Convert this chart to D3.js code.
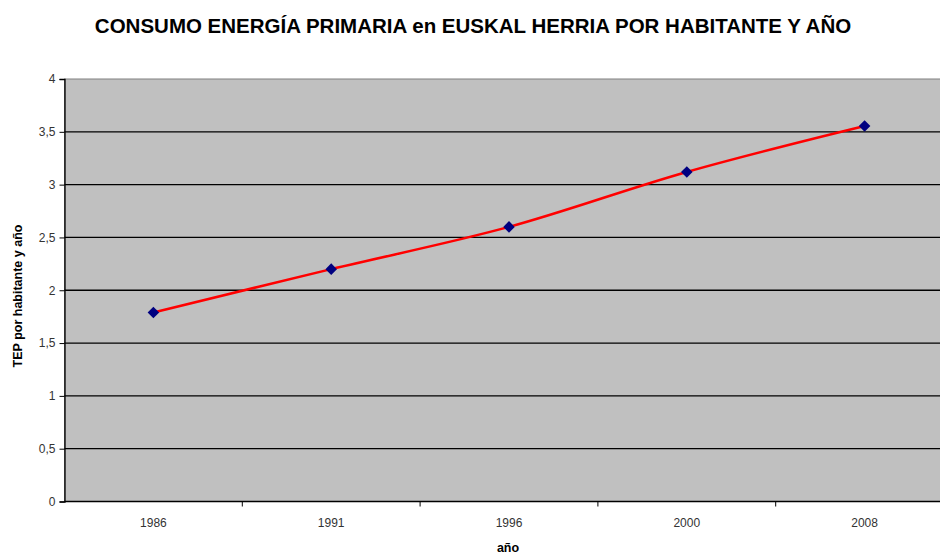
<!DOCTYPE html>
<html>
<head>
<meta charset="utf-8">
<script src="https://cdn.jsdelivr.net/npm/d3@7"></script>
<style>
body { margin: 0; background: #fff; }
text { font-family: "Liberation Sans", Arial, sans-serif; }
</style>
</head>
<body>
<svg id="chart" width="940" height="554"></svg>
<script>
// data
var years = ["1986", "1991", "1996", "2000", "2008"];
var tep = [1.79, 2.2, 2.6, 3.12, 3.555];
var yTicks = [0, 0.5, 1, 1.5, 2, 2.5, 3, 3.5, 4];

var svg = d3.select("#chart");
var plotLeft = 64.5, plotTop = 79, plotRight = 953.5, plotBottom = 501.5;

var x = d3.scaleBand()
	.domain(years)
	.range([plotLeft, plotRight]);

var y = d3.scaleLinear()
	.domain([0, 4])
	.range([plotBottom, plotTop]);

var fmt = function(d) { return String(d).replace(".", ","); };

// plot background
svg.append("rect")
	.attr("x", plotLeft)
	.attr("y", plotTop)
	.attr("width", plotRight - plotLeft)
	.attr("height", plotBottom - plotTop)
	.attr("fill", "#c0c0c0")
	.attr("stroke", "#808080")
	.attr("stroke-width", 1);

// grid lines
svg.append("g")
	.selectAll("line")
	.data(yTicks.filter(function(d) { return d > 0 && d < 4; }))
	.enter()
	.append("line")
	.attr("x1", plotLeft)
	.attr("x2", plotRight)
	.attr("y1", function(d) { return y(d); })
	.attr("y2", function(d) { return y(d); })
	.attr("stroke", "#000")
	.attr("stroke-width", 1.3);

// y axis
var yAxis = svg.append("g")
	.attr("transform", "translate(" + plotLeft + ",0)")
	.call(d3.axisLeft(y).tickValues(yTicks).tickFormat(fmt).tickSize(5).tickPadding(4));
yAxis.select(".domain").attr("stroke", "#000").attr("stroke-width", 1.3);
yAxis.selectAll(".tick line").attr("stroke", "#000");
yAxis.selectAll("text")
	.style("font-size", "12px")
	.attr("fill", "#333");

// x axis: ticks sit on the band edges
var xAxis = svg.append("g")
	.attr("transform", "translate(0," + plotBottom + ")");
xAxis.append("line")
	.attr("x1", plotLeft)
	.attr("x2", plotRight)
	.attr("stroke", "#000")
	.attr("stroke-width", 1.3);
xAxis.selectAll(".edge")
	.data(years.slice(1))
	.enter()
	.append("line")
	.attr("x1", function(d) { return x(d); })
	.attr("x2", function(d) { return x(d); })
	.attr("y2", 5)
	.attr("stroke", "#000");
xAxis.selectAll(".lab")
	.data(years)
	.enter()
	.append("text")
	.attr("x", function(d) { return x(d) + x.bandwidth() / 2; })
	.attr("y", 25)
	.attr("text-anchor", "middle")
	.style("font-size", "12px")
	.attr("fill", "#333")
	.text(function(d) { return d; });

// the line, smoothed like the spreadsheet did
var line = d3.line()
	.x(function(d, i) { return x(years[i]) + x.bandwidth() / 2; })
	.y(function(d) { return y(d); })
	.curve(d3.curveCatmullRom.alpha(0));

svg.append("path")
	.datum(tep)
	.attr("d", line)
	.attr("fill", "none")
	.attr("stroke", "#ff0000")
	.attr("stroke-width", 2.5);

// diamond markers
svg.append("g")
	.selectAll("path")
	.data(tep)
	.enter()
	.append("path")
	.attr("d", d3.symbol().type(d3.symbolDiamond2).size(85))
	.attr("transform", function(d, i) {
		return "translate(" + (x(years[i]) + x.bandwidth() / 2) + "," + y(d) + ")";
	})
	.attr("fill", "#000080");

// titles
svg.append("text")
	.attr("x", 473)
	.attr("y", 33)
	.attr("text-anchor", "middle")
	.style("font-size", "20.5px")
	.style("font-weight", "bold")
	.text("CONSUMO ENERGÍA PRIMARIA en EUSKAL HERRIA POR HABITANTE Y AÑO");

svg.append("text")
	.attr("transform", "translate(22,296) rotate(-90)")
	.attr("text-anchor", "middle")
	.style("font-size", "12.5px")
	.style("font-weight", "bold")
	.text("TEP por habitante y año");

svg.append("text")
	.attr("x", 508)
	.attr("y", 552)
	.attr("text-anchor", "middle")
	.style("font-size", "12.5px")
	.style("font-weight", "bold")
	.text("año");
</script>
</body>
</html>
